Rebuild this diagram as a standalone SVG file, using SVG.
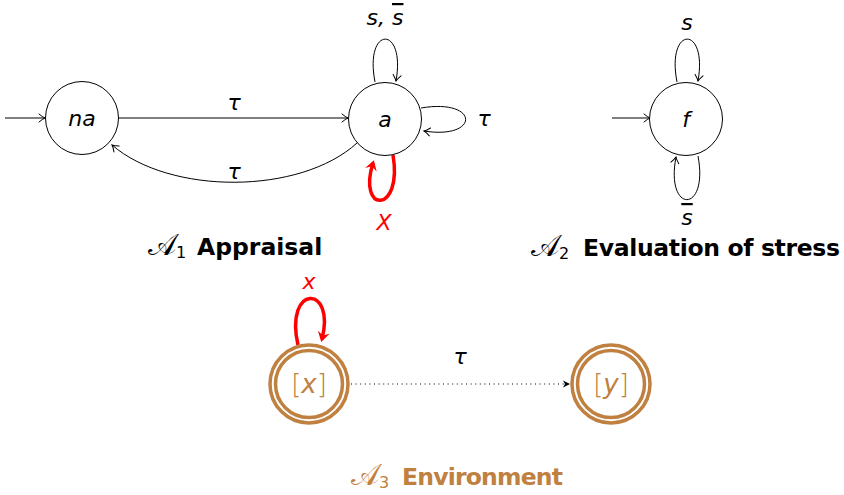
<svg xmlns="http://www.w3.org/2000/svg" width="844" height="495" viewBox="0 0 844 495">
<style>
  .node{fill:#fff;stroke:#000;stroke-width:1}
  .edge{fill:none;stroke:#000;stroke-width:1}
  .red{fill:none;stroke:#f00;stroke-width:3.5}
  .math{font-family:"DejaVu Sans",sans-serif;font-style:oblique;font-size:22px;text-anchor:middle}
  .title{font-family:"DejaVu Sans",sans-serif;font-weight:bold;font-size:23.5px}
  .cal{font-family:"DejaVu Sans","DejaVu Serif","Noto Sans",serif;font-size:30px}
  .sub{font-family:"DejaVu Sans",sans-serif;font-size:16px}
  .brown{fill:#bf8040}
  .ring{fill:#fff;stroke:#bf8040;stroke-width:3.5}
</style>
<defs>
  <marker id="arr" viewBox="-8 -5 10 10" markerWidth="10" markerHeight="10" refX="0" refY="0" orient="auto" markerUnits="userSpaceOnUse">
    <path d="M-6,-4 Q-2.5,-1 0,0 Q-2.5,1 -6,4" fill="none" stroke="#000" stroke-width="1" stroke-linecap="round"/>
  </marker>
  <marker id="arrR" viewBox="-12 -7 14 14" markerWidth="14" markerHeight="14" refX="-3" refY="0" orient="auto" markerUnits="userSpaceOnUse">
    <path d="M0,0 L-10,-6 L-6.5,0 L-10,6 Z" fill="#f00"/>
  </marker>
  <marker id="arrS" viewBox="-10 -5 12 10" markerWidth="12" markerHeight="10" refX="0" refY="0" orient="auto" markerUnits="userSpaceOnUse">
    <path d="M0,0 L-7,-3.5 L-5,0 L-7,3.5 Z" fill="#000"/>
  </marker>
</defs>
<rect width="844" height="495" fill="#fff"/>

<g id="connectors">
  <line class="edge" x1="5" y1="118" x2="45" y2="118" marker-end="url(#arr)"/>
  <line class="edge" x1="118" y1="118" x2="348" y2="118" marker-end="url(#arr)"/>
  <path class="edge" d="M357,143 C300,195 170,195 112,145" marker-end="url(#arr)"/>
  <path class="edge" d="M375,82 C364,25 406,25 396,81" marker-end="url(#arr)"/>
  <path class="edge" d="M421,108 C480,98 480,140 424,131" marker-end="url(#arr)"/>
  <path class="red" d="M393,155 C403,214 357,214 373,163" marker-end="url(#arrR)"/>
  <line class="edge" x1="612" y1="118" x2="650" y2="118" marker-end="url(#arr)"/>
  <path class="edge" d="M677,82 C666,25 708,25 698,81" marker-end="url(#arr)"/>
  <path class="edge" d="M698,156 C709,214 665,214 676,157" marker-end="url(#arr)"/>
  <path class="red" d="M298,345 C284,284 336,284 322,339" marker-end="url(#arrR)"/>
  <line x1="351" y1="384" x2="570" y2="384" stroke="#000" stroke-width="1.2" stroke-dasharray="1 3.6" marker-end="url(#arrS)"/>
</g>

<g id="node-na">
  <circle class="node" cx="82" cy="118" r="36.5"/>
  <text class="math" x="82" y="126">na</text>
</g>
<g id="node-a">
  <circle class="node" cx="385" cy="119" r="36.5"/>
  <text class="math" x="385" y="127">a</text>
</g>
<g id="node-f">
  <circle class="node" cx="686" cy="119" r="36.5"/>
  <text class="math" x="686" y="127">f</text>
</g>
<g id="node-x">
  <circle class="ring" cx="309" cy="384" r="39"/>
  <circle class="ring" cx="309" cy="384" r="33.5"/>
  <text class="brown" x="309" y="393" text-anchor="middle" font-family="DejaVu Sans,sans-serif" font-size="26" font-weight="200">[<tspan font-style="oblique">x</tspan>]</text>
</g>
<g id="node-y">
  <circle class="ring" cx="611" cy="384" r="39"/>
  <circle class="ring" cx="611" cy="384" r="33.5"/>
  <text class="brown" x="611" y="393" text-anchor="middle" font-family="DejaVu Sans,sans-serif" font-size="26" font-weight="200">[<tspan font-style="oblique">y</tspan>]</text>
</g>

<g id="labels">
  <text class="math" x="234" y="110">τ</text>
  <text class="math" x="234" y="179">τ</text>
  <text class="math" x="484" y="126">τ</text>
  <text class="math" x="385" y="25">s, <tspan text-decoration="overline">s</tspan></text>
  <text class="math" x="384" y="230" fill="#f00" font-size="26">X</text>
  <text class="math" x="687" y="30">s</text>
  <text class="math" x="687" y="225" text-decoration="overline">s</text>
  <text class="math" x="309" y="289" fill="#f00" font-size="19">x</text>
  <text class="math" x="460" y="364">τ</text>
</g>

<g id="titles">
  <text class="cal" x="148" y="255">𝒜<tspan class="sub" dy="3">1</tspan></text>
  <text class="title" x="197" y="255">Appraisal</text>
  <text class="cal" x="531" y="256">𝒜<tspan class="sub" dy="3">2</tspan></text>
  <text class="title" x="583" y="256" textLength="257">Evaluation of stress</text>
  <text class="cal brown" x="351" y="485">𝒜<tspan class="sub" dy="3">3</tspan></text>
  <text class="title brown" x="402" y="485" textLength="161">Environment</text>
</g>
</svg>
